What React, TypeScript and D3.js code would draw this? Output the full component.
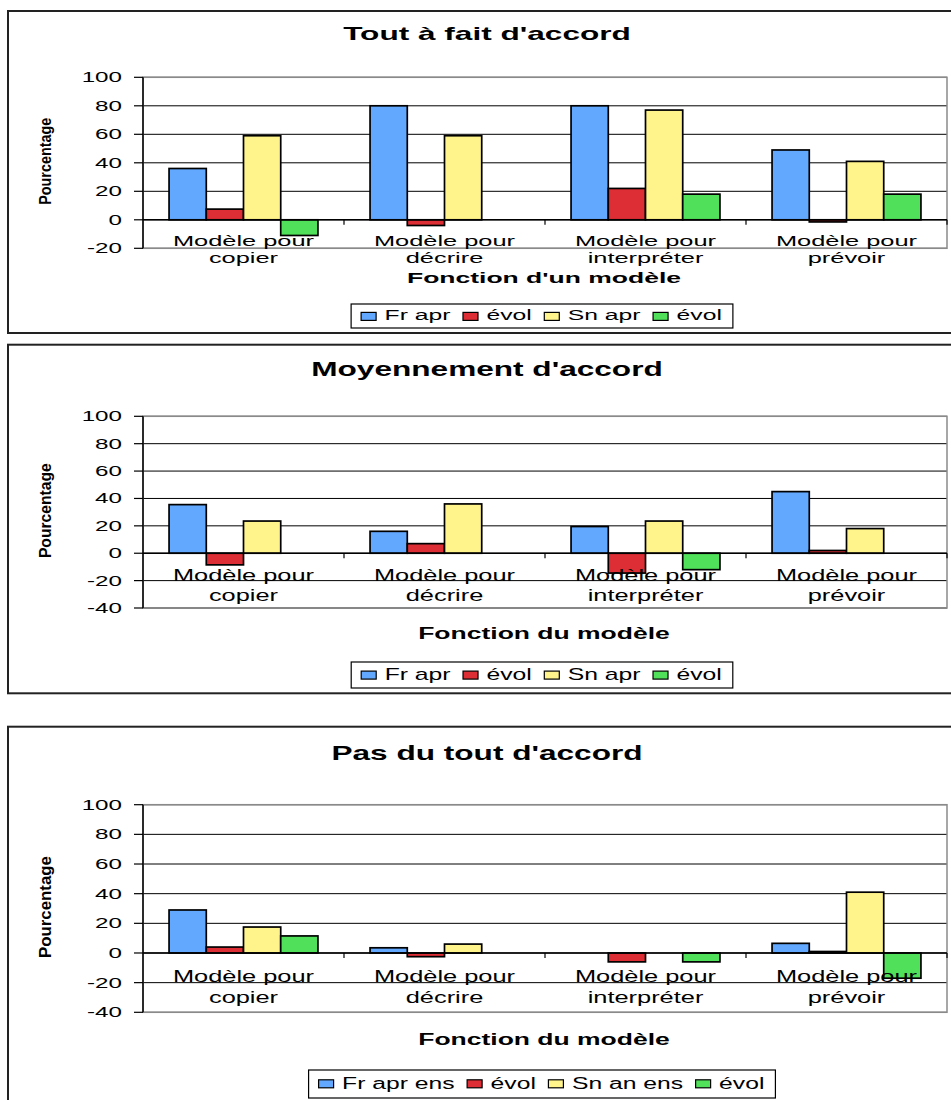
import React from 'react';
import * as d3 from 'd3';

// ---------- DATA ----------
const categories: string[][] = [
  ['Modèle pour', 'copier'],
  ['Modèle pour', 'décrire'],
  ['Modèle pour', 'interpréter'],
  ['Modèle pour', 'prévoir'],
];
const yTicks1 = [-20, 0, 20, 40, 60, 80, 100];
const yTicks23 = [-40, -20, 0, 20, 40, 60, 80, 100];

// Panel 1 : Tout à fait d'accord
const p1FrApr = [36, 80, 80, 49];
const p1Evol1 = [7.5, -4, 22, -1.5];
const p1SnApr = [59, 59, 77, 41];
const p1Evol2: (number | null)[] = [-11, null, 18, 18];

// Panel 2 : Moyennement d'accord
const p2FrApr = [35.5, 16, 19.5, 45];
const p2Evol1 = [-8.5, 7, -14.5, 2];
const p2SnApr = [23.5, 36, 23.5, 18];
const p2Evol2: (number | null)[] = [null, null, -12, null];

// Panel 3 : Pas du tout d'accord
const p3FrApr: (number | null)[] = [29, 3.5, null, 6.5];
const p3Evol1 = [4, -2.5, -6, 1];
const p3SnApr: (number | null)[] = [17.5, 6, null, 41];
const p3Evol2: (number | null)[] = [11.5, null, -6, -17];

const legend12 = ['Fr apr', 'évol', 'Sn apr', 'évol'];
const legend3 = ['Fr apr ens', 'évol', 'Sn an ens', 'évol'];
const colors = ['#63A8FF', '#DC2E34', '#FFF38B', '#50E05A'];

// ---------- LAYOUT ----------
const FONT = "'Liberation Sans', Arial, Helvetica, sans-serif";
const PLOT_L = 143;
const PLOT_R = 947;

const panels = [
  {
    top: 11, bottom: 333, k: 1,
    title: "Tout à fait d'accord", titleY: 39.5,
    plotTop: 77.3, plotBottom: 248.3, domain: [-20, 100], ticks: yTicks1,
    catY: [246, 263], xTitle: "Fonction d'un modèle", xTitleY: 283,
    legendTop: 304, legendH: 24, legend: legend12,
    series: [p1FrApr, p1Evol1, p1SnApr, p1Evol2],
    yTitleLen: 87,
  },
  {
    top: 344.7, bottom: 693.3, k: 1.1,
    title: "Moyennement d'accord", titleY: 375.5,
    plotTop: 416.3, plotBottom: 608, domain: [-40, 100], ticks: yTicks23,
    catY: [580.7, 600.7], xTitle: 'Fonction du modèle', xTitleY: 639,
    legendTop: 662, legendH: 26, legend: legend12,
    series: [p2FrApr, p2Evol1, p2SnApr, p2Evol2],
    yTitleLen: 95,
  },
  {
    top: 726.7, bottom: 1140, k: 1.12,
    title: "Pas du tout d'accord", titleY: 760,
    plotTop: 804.7, plotBottom: 1012.3, domain: [-40, 100], ticks: yTicks23,
    catY: [982.3, 1003.3], xTitle: 'Fonction du modèle', xTitleY: 1045,
    legendTop: 1070, legendH: 28, legend: legend3,
    series: [p3FrApr, p3Evol1, p3SnApr, p3Evol2],
    yTitleLen: 102,
  },
];

let ctx: CanvasRenderingContext2D | null = null;
function measure(t: string, size: number, bold = false): number {
  if (!ctx) ctx = document.createElement('canvas').getContext('2d');
  if (!ctx) return t.length * size * 0.55;
  ctx.font = `${bold ? 'bold ' : ''}${size}px ${FONT}`;
  return ctx.measureText(t).width;
}

function T(props: {
  x: number; y: number; sx?: number; sy?: number; rotate?: number;
  anchor?: string; size: number; bold?: boolean; children: React.ReactNode;
}) {
  const { x, y, sx = 1, sy = 1, rotate, anchor = 'middle', size, bold, children } = props;
  return (
    <text
      transform={`translate(${x},${y})${rotate ? ` rotate(${rotate})` : ''} scale(${sx},${sy})`}
      textAnchor={anchor}
      fontSize={size}
      fontWeight={bold ? 'bold' : 'normal'}
      fontFamily={FONT}
      fill="#000"
    >
      {children}
    </text>
  );
}

function Panel({ p }: { p: (typeof panels)[number] }) {
  const x = d3.scaleBand<number>().domain(d3.range(categories.length)).range([PLOT_L, PLOT_R]);
  const y = d3.scaleLinear().domain(p.domain).range([p.plotBottom, p.plotTop]);
  const bw = x.bandwidth();
  const barW = bw / 5.4;
  const inner = d3
    .scaleBand<number>()
    .domain(d3.range(p.series.length))
    .range([(bw - p.series.length * barW) / 2, (bw + p.series.length * barW) / 2]);
  const y0 = y(0);
  const k = p.k;

  const titleSize = 18.5 * k;
  const catSize = 15 * k;
  const xtSize = 15 * k;
  const legSize = 14.5 * k;
  const legSx = 24.7 / legSize;

  // legend layout
  const widths = p.legend.map((t) => measure(t, legSize) * legSx);
  const n = p.legend.length;
  const total = 10 + widths.reduce((a, w) => a + 15 + 8.5 + w, 0) + 12.5 * (n - 1) + 11;
  const lx0 = 542 - total / 2;
  let cur = lx0 + 10;
  const items = p.legend.map((t, i) => {
    const sxPos = cur;
    const txPos = cur + 15 + 8.5;
    cur = txPos + widths[i] + 12.5;
    return { t, sxPos, txPos, color: colors[i] };
  });

  const yTitleSize = 16.5;
  const yTitleNat = measure('Pourcentage', yTitleSize, true);
  const midY = (p.plotTop + p.plotBottom) / 2;
  const midX = (PLOT_L + PLOT_R) / 2;

  return (
    <g>
      <rect x={8} y={p.top} width={960} height={p.bottom - p.top} fill="#fff" stroke="#222" strokeWidth={2} />
      <T x={487} y={p.titleY} size={titleSize} bold sx={31.6 / titleSize}>{p.title}</T>

      {/* gridlines */}
      {p.ticks.map((t) => (
        <line key={'g' + t} x1={PLOT_L} x2={PLOT_R} y1={y(t)} y2={y(t)} stroke="#000" strokeWidth={1} />
      ))}
      {/* plot border */}
      <rect x={PLOT_L} y={p.plotTop} width={PLOT_R - PLOT_L} height={p.plotBottom - p.plotTop} fill="none" stroke="#8a8a8a" strokeWidth={1.5} />

      {/* bars */}
      {p.series.map((vals, s) =>
        vals.map((v, c) => {
          if (v === null || v === undefined) return null;
          const yv = y(v);
          return (
            <rect
              key={`b${s}-${c}`}
              x={(x(c) as number) + (inner(s) as number)}
              y={Math.min(yv, y0)}
              width={inner.bandwidth()}
              height={Math.abs(yv - y0)}
              fill={colors[s]}
              stroke="#000"
              strokeWidth={1.7}
            />
          );
        })
      )}

      {/* y axis */}
      <line x1={PLOT_L} x2={PLOT_L} y1={p.plotTop} y2={p.plotBottom} stroke="#000" strokeWidth={1.5} />
      {p.ticks.map((t) => (
        <g key={'t' + t}>
          <line x1={PLOT_L - 9} x2={PLOT_L} y1={y(t)} y2={y(t)} stroke="#000" strokeWidth={1.2} />
          <T x={122} y={y(t) + 5} size={15.5} sx={1.56} anchor="end">{String(t)}</T>
        </g>
      ))}

      {/* x axis */}
      <line x1={PLOT_L} x2={PLOT_R} y1={y0} y2={y0} stroke="#000" strokeWidth={1.5} />
      {d3.range(1, categories.length + 1).map((i) => {
        const xx = i < categories.length ? (x(i) as number) : PLOT_R;
        return <line key={'xt' + i} x1={xx} x2={xx} y1={y0} y2={y0 + 5} stroke="#000" strokeWidth={1.2} />;
      })}
      {categories.map((lines, c) => {
        const cx = (x(c) as number) + bw / 2;
        return (
          <g key={'c' + c}>
            {lines.map((l, j) => (
              <T key={j} x={cx} y={p.catY[j]} size={catSize} sx={25.4 / catSize}>{l}</T>
            ))}
          </g>
        );
      })}

      <T x={midX - 1} y={p.xTitleY} size={xtSize} bold sx={26.5 / xtSize}>{p.xTitle}</T>

      <T x={51} y={midY - 1.5} rotate={-90} size={yTitleSize} bold sx={p.yTitleLen / yTitleNat} sy={1.05}>
        Pourcentage
      </T>

      {/* legend */}
      <rect x={lx0} y={p.legendTop} width={total} height={p.legendH} fill="#fff" stroke="#000" strokeWidth={1.2} />
      {items.map((it, i) => (
        <g key={'l' + i}>
          <rect
            x={it.sxPos}
            y={p.legendTop + p.legendH * 0.35}
            width={15}
            height={8}
            fill={it.color}
            stroke="#000"
            strokeWidth={1.2}
          />
          <T x={it.txPos} y={p.legendTop + p.legendH * 0.68} size={legSize} sx={legSx} anchor="start">{it.t}</T>
        </g>
      ))}
    </g>
  );
}

export default function App() {
  return (
    <svg width={951} height={1100} style={{ position: 'absolute', left: 0, top: 0, background: '#fff' }}>
      <rect x={0} y={0} width={951} height={1100} fill="#fff" />
      {panels.map((p, i) => (
        <Panel key={i} p={p} />
      ))}
    </svg>
  );
}
